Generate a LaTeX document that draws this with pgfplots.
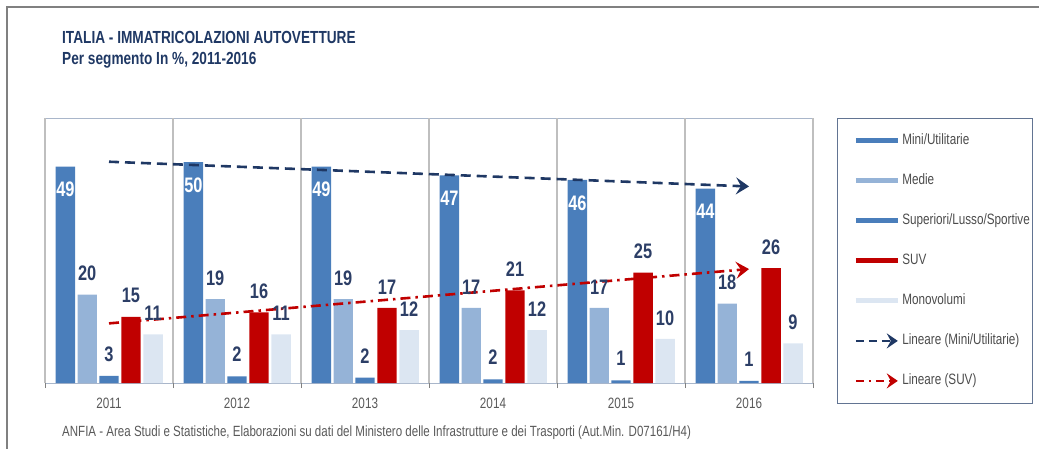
\documentclass[border=0pt]{standalone}
\usepackage{pgfplots}
\pgfplotsset{compat=1.18}
\usetikzlibrary{arrows.meta}
\usepackage{fontspec}
\setmainfont{Liberation Sans}[FakeStretch=0.78]
\definecolor{cMini}{HTML}{4A7EBB}
\definecolor{cMedie}{HTML}{95B3D7}
\definecolor{cSUV}{HTML}{C00000}
\definecolor{cMono}{HTML}{DCE6F2}
\definecolor{cNavy}{HTML}{1F3864}
\definecolor{cLab}{HTML}{2C3E66}
\definecolor{cGrid}{HTML}{BFBFBF}
\definecolor{cTxt}{HTML}{595959}
\definecolor{cBox}{HTML}{A9B6CA}
\begin{document}
\begin{tikzpicture}[x=1pt,y=1pt]
\path[use as bounding box] (0,0) rectangle (1039,448);
\draw[gray, line width=1.5pt] (7,-20) -- (7,441) -- (1060,441);
\node[anchor=west, inner sep=0pt, font=\bfseries\fontsize{17.5}{18}\selectfont, text=cNavy] at (62,411) {ITALIA - IMMATRICOLAZIONI AUTOVETTURE};
\node[anchor=west, inner sep=0pt, font=\bfseries\fontsize{17.5}{18}\selectfont, text=cNavy] at (62,388) {Per segmento In \%, 2011-2016};
\node[anchor=west, inner sep=0pt, font=\fontsize{14.8}{15}\selectfont, text=cTxt] at (62,15) {ANFIA - Area Studi e Statistiche, Elaborazioni su dati del Ministero delle Infrastrutture e dei Trasporti (Aut.Min. D07161/H4)};
\begin{axis}[
  at={(45pt,65pt)}, anchor=south west, scale only axis,
  width=768pt, height=265pt,
  xmin=-0.5, xmax=5.5, ymin=0, ymax=60,
  ytick=\empty,
  xtick={0,...,5},
  xticklabels={2011,2012,2013,2014,2015,2016},
  xtick pos=bottom, tick align=outside,
  major tick length=0pt,
  x tick label style={font=\fontsize{15}{15}\selectfont, text=cTxt, yshift=-11pt},
  extra x ticks={-0.5,0.5,1.5,2.5,3.5,4.5,5.5},
  extra x tick labels={},
  extra x tick style={grid=major, major tick length=5pt,
     major grid style={draw=cGrid, line width=1.2pt},
     tick style={draw=gray, line width=1pt}},
  axis line style={draw=cBox, line width=1pt},
  /pgf/number format/assume math mode=true,
  clip=false,
  legend style={at={(1,1)}, anchor=north west, xshift=24pt, yshift=0pt,
     draw=cNavy!70, line width=0.8pt, font=\fontsize{15}{15}\selectfont, text=cTxt!85!black,
     inner xsep=1pt, inner ysep=14pt, row sep=23pt,
     nodes={inner sep=2pt, text height=10pt, text depth=3pt},
     cells={anchor=west}},
  legend cell align=left,
]
% bars
\addplot[ybar, forget plot, bar width=0.152, bar shift=-0.341, fill=cMini, draw=none,
  nodes near coords, every node near coord/.append style={anchor=center, xshift=-43.6pt, yshift=-23pt, text=white, font=\bfseries\fontsize{21}{21}\selectfont}]
  coordinates {(0,49) (1,50) (2,49) (3,47) (4,46) (5,44)};
\addplot[ybar, forget plot, bar width=0.152, bar shift=-0.170, fill=cMedie, draw=none,
  nodes near coords, every node near coord/.append style={anchor=center, xshift=-21.8pt, yshift=21pt, text=cLab, font=\bfseries\fontsize{21}{21}\selectfont}]
  coordinates {(0,20) (1,19) (2,19) (3,17) (4,17) (5,18)};
\addplot[ybar, forget plot, bar width=0.152, bar shift=0, fill=cMini, draw=none,
  point meta=explicit,
  nodes near coords, every node near coord/.append style={anchor=center, yshift=22pt, text=cLab, font=\bfseries\fontsize{21}{21}\selectfont}]
  coordinates {(0,1.6) [3] (1,1.5) [2] (2,1.2) [2] (3,0.8) [2] (4,0.6) [1] (5,0.5) [1]};
\addplot[ybar, forget plot, bar width=0.152, bar shift=0.172, fill=cSUV, draw=none,
  nodes near coords, every node near coord/.append style={anchor=center, xshift=22pt, yshift=21pt, text=cLab, font=\bfseries\fontsize{21}{21}\selectfont}]
  coordinates {(0,15) (1,16) (2,17) (3,21) (4,25) (5,26)};
\addplot[ybar, forget plot, bar width=0.152, bar shift=0.344, fill=cMono, draw=none,
  nodes near coords, every node near coord/.append style={anchor=center, xshift=44pt, yshift=21pt, text=cLab, font=\bfseries\fontsize{21}{21}\selectfont}]
  coordinates {(0,11) (1,11) (2,12) (3,12) (4,10) (5,9)};
% trend lines
\addplot[forget plot, cNavy, line width=2.6pt, dash pattern=on 10pt off 6pt,
  -{Stealth[length=13pt,width=17pt,inset=5pt]}]
  coordinates {(0,50.1) (5,44.5)};
\addplot[forget plot, cSUV, line width=2.6pt, dash pattern=on 10pt off 5pt on 2.5pt off 5pt,
  -{Stealth[length=13pt,width=17pt,inset=5pt]}]
  coordinates {(0,13.5) (5,25.8)};
% legend
\addlegendimage{legend image code/.code={\path (0pt,0pt); \draw[cMini, line width=5pt] (17pt,0pt) -- (59pt,0pt);}}
\addlegendentry{Mini/Utilitarie}
\addlegendimage{legend image code/.code={\path (0pt,0pt); \draw[cMedie, line width=5pt] (17pt,0pt) -- (59pt,0pt);}}
\addlegendentry{Medie}
\addlegendimage{legend image code/.code={\path (0pt,0pt); \draw[cMini, line width=5pt] (17pt,0pt) -- (59pt,0pt);}}
\addlegendentry{Superiori/Lusso/Sportive}
\addlegendimage{legend image code/.code={\path (0pt,0pt); \draw[cSUV, line width=5pt] (17pt,0pt) -- (59pt,0pt);}}
\addlegendentry{SUV}
\addlegendimage{legend image code/.code={\path (0pt,0pt); \draw[cMono, line width=5pt] (17pt,0pt) -- (59pt,0pt);}}
\addlegendentry{Monovolumi}
\addlegendimage{legend image code/.code={\path (0pt,0pt); \draw[cNavy, line width=2.6pt, dash pattern=on 8pt off 5pt, -{Stealth[length=11pt,width=15pt,inset=4pt]}] (17pt,0pt) -- (59pt,0pt);}}
\addlegendentry{Lineare (Mini/Utilitarie)}
\addlegendimage{legend image code/.code={\path (0pt,0pt); \draw[cSUV, line width=2.6pt, dash pattern=on 8pt off 5pt on 2pt off 5pt, -{Stealth[length=11pt,width=15pt,inset=4pt]}] (17pt,0pt) -- (59pt,0pt);}}
\addlegendentry{Lineare (SUV)}
\end{axis}
\end{tikzpicture}
\end{document}
